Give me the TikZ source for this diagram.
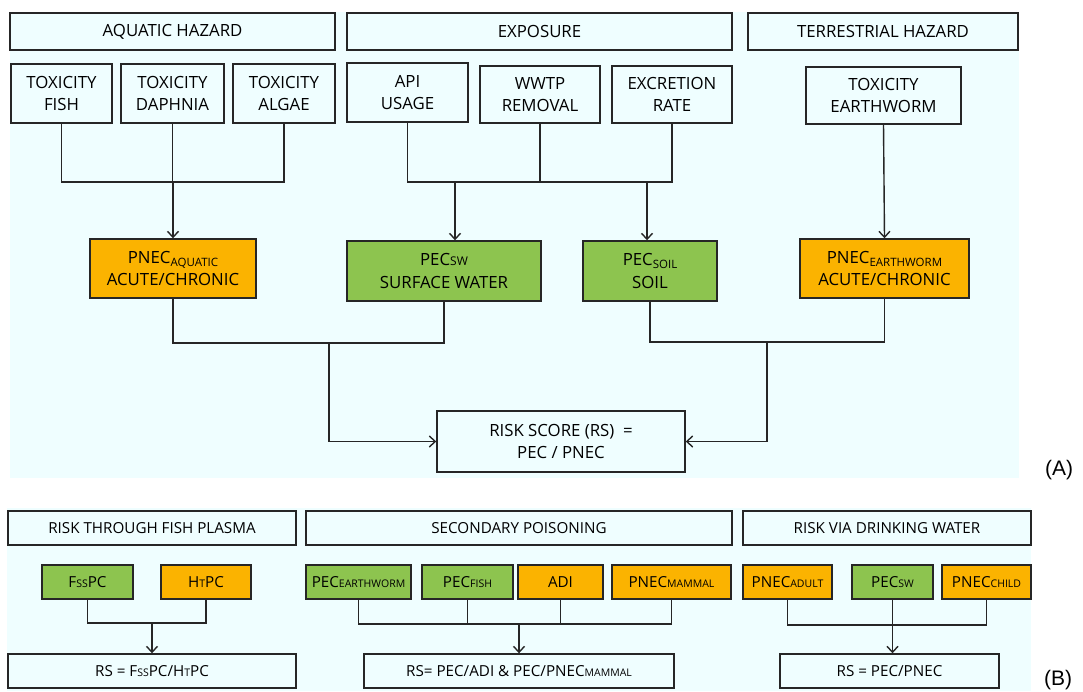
\documentclass[tikz,border=0pt]{standalone}
\usepackage{fontspec}
\setmainfont{Open Sans}
\newfontfamily\labfont{Liberation Sans}
\usetikzlibrary{arrows.meta}
\definecolor{bgc}{HTML}{EFFEFF}
\definecolor{orng}{HTML}{FBB300}
\definecolor{grn}{HTML}{8DC44F}
\definecolor{edgec}{HTML}{262626}
\newcommand\lsub[1]{\raisebox{-0.35ex}{\fontsize{11.5}{11}\selectfont #1}}
\newcommand\smc[1]{{\fontsize{12}{11}\selectfont #1}}
\newcommand\smcb[1]{{\fontsize{10.5}{10}\selectfont #1}}
\begin{document}
\begin{tikzpicture}[x=1pt,y=-1pt,
  box/.style={draw=edgec, line width=1.4pt, fill=bgc, align=center, inner sep=0pt, font=\fontsize{16.8}{22.5}\selectfont},
  orbox/.style={box, fill=orng},
  grbox/.style={box, fill=grn},
  bbox/.style={box, font=\fontsize{15.2}{17}\selectfont},
  borbox/.style={bbox, fill=orng},
  bgrbox/.style={bbox, fill=grn},
  conn/.style={draw=edgec, line width=1.4pt},
  arr/.style={conn, -{Straight Barb[length=6pt,width=11pt]}},
  panlab/.style={font=\labfont\fontsize{21}{21}\selectfont, inner sep=0pt}
]
\useasboundingbox (0,0) rectangle (1083,691);
\fill[bgc] (10,12) rectangle (1019,478);
\fill[bgc] (7,508) rectangle (1031,691);

% ---------- Panel A ----------
\node[box, minimum width=325pt, minimum height=37pt] (hA) at (172.5,31.5) {AQUATIC HAZARD};
\node[box, minimum width=385pt, minimum height=37pt] (hE) at (539.5,31.5) {EXPOSURE};
\node[box, minimum width=270pt, minimum height=37pt] (hT) at (883,31.5) {TERRESTRIAL HAZARD};

\node[box, minimum width=101pt, minimum height=59pt] (fish) at (61.5,93.5) {TOXICITY\\FISH};
\node[box, minimum width=103pt, minimum height=59pt] (daph) at (172.5,93.5) {TOXICITY\\DAPHNIA};
\node[box, minimum width=102pt, minimum height=59pt] (alg) at (284,93.5) {TOXICITY\\ALGAE};
\node[box, minimum width=121pt, minimum height=59pt] (api) at (407.5,92.5) {API\\USAGE};
\node[box, minimum width=120pt, minimum height=57pt] (wwtp) at (540,94.5) {WWTP\\REMOVAL};
\node[box, minimum width=120pt, minimum height=57pt] (excr) at (672,94.5) {EXCRETION\\RATE};
\node[box, minimum width=155pt, minimum height=57pt] (worm) at (883.5,95.5) {TOXICITY\\EARTHWORM};

\node[orbox, minimum width=166pt, minimum height=59pt] (pnA) at (173,268.5) {PNEC\lsub{AQUATIC}\\ACUTE/CHRONIC};
\node[grbox, minimum width=194pt, minimum height=60pt] (pSW) at (444,271) {PEC\smc{SW}\\SURFACE WATER};
\node[grbox, minimum width=134pt, minimum height=60pt] (pSo) at (650,271) {PEC\lsub{SOIL}\\SOIL};
\node[orbox, minimum width=169pt, minimum height=59pt] (pnE) at (884.5,268.5) {PNEC\lsub{EARTHWORM}\\ACUTE/CHRONIC};

\node[box, minimum width=248pt, minimum height=61pt] (RS) at (561,441.5) {RISK SCORE (RS)\ \ =\\PEC / PNEC};

\coordinate (jA) at (173,182);
\draw[conn] (fish.south) |- (alg.south |- jA) -- (alg.south);
\draw[conn] (daph.south) -- (daph.south |- jA);
\draw[arr] (jA) -- (pnA.north);

\coordinate (jE1) at (455,182);
\coordinate (jE2) at (647,182);
\draw[conn] (api.south) |- (excr.south |- jE1) -- (excr.south);
\draw[conn] (wwtp.south) -- (wwtp.south |- jE1);
\draw[arr] (jE1) -- (jE1 |- pSW.north);
\draw[arr] (jE2) -- (jE2 |- pSo.north);

\draw[arr] (worm.south) -- (pnE.north);

\coordinate (jL) at (329,343);
\coordinate (jR) at (767,342);
\draw[conn] (pnA.south) |- (pSW.south |- jL) -- (pSW.south);
\draw[arr] (jL) |- (RS.west);
\draw[conn] (pSo.south) |- (pnE.south |- jR) -- (pnE.south);
\draw[arr] (jR) |- (RS.east);

\node[panlab] (labA) at (1059,470) {(A)};

% ---------- Panel B ----------
\node[bbox, minimum width=288pt, minimum height=34pt] (hF) at (152,528) {RISK THROUGH FISH PLASMA};
\node[bbox, minimum width=426pt, minimum height=34pt] (hS) at (519,528) {SECONDARY POISONING};
\node[bbox, minimum width=288pt, minimum height=34pt] (hD) at (887,528) {RISK VIA DRINKING WATER};

\node[bgrbox, minimum width=91pt, minimum height=34pt] (fss) at (87.5,582) {F\smcb{SS}PC};
\node[borbox, minimum width=90pt, minimum height=34pt] (htpc) at (206,582) {H\smcb{T}PC};
\node[bgrbox, minimum width=105pt, minimum height=34pt] (pew) at (358.5,582) {PEC\smcb{EARTHWORM}};
\node[bgrbox, minimum width=91pt, minimum height=34pt] (pfish) at (467.5,582) {PEC\smcb{FISH}};
\node[borbox, minimum width=85pt, minimum height=34pt] (adi) at (560.5,582) {ADI};
\node[borbox, minimum width=119pt, minimum height=34pt] (pnm) at (671.5,582) {PNEC\smcb{MAMMAL}};
\node[borbox, minimum width=89pt, minimum height=34pt] (pna) at (787.5,582) {PNEC\smcb{ADULT}};
\node[bgrbox, minimum width=81pt, minimum height=34pt] (psw2) at (892.5,582) {PEC\smcb{SW}};
\node[borbox, minimum width=89pt, minimum height=34pt] (pnc) at (986.5,582) {PNEC\smcb{CHILD}};

\node[bbox, minimum width=288pt, minimum height=34pt] (rs1) at (152,671) {RS = F\smcb{SS}PC/H\smcb{T}PC};
\node[bbox, minimum width=310pt, minimum height=34pt] (rs2) at (519,671) {RS= PEC/ADI \& PEC/PNEC\smcb{MAMMAL}};
\node[bbox, minimum width=219pt, minimum height=34pt] (rs3) at (889.5,671) {RS = PEC/PNEC};

\coordinate (jF) at (152,623);
\draw[conn] (fss.south) |- (htpc.south |- jF) -- (htpc.south);
\draw[arr] (jF) -- (rs1.north);

\coordinate (jS) at (519,624);
\draw[conn] (pew.south) |- (pnm.south |- jS) -- (pnm.south);
\draw[conn] (pfish.south) -- (pfish.south |- jS);
\draw[conn] (adi.south) -- (adi.south |- jS);
\draw[arr] (jS) -- (rs2.north);

\coordinate (jD) at (889.5,625);
\draw[conn] (pna.south) |- (pnc.south |- jD) -- (pnc.south);
\draw[arr] (psw2.south) -- (psw2.south |- rs3.north);

\node[panlab] (labB) at (1058,680) {(B)};
\end{tikzpicture}
\end{document}
